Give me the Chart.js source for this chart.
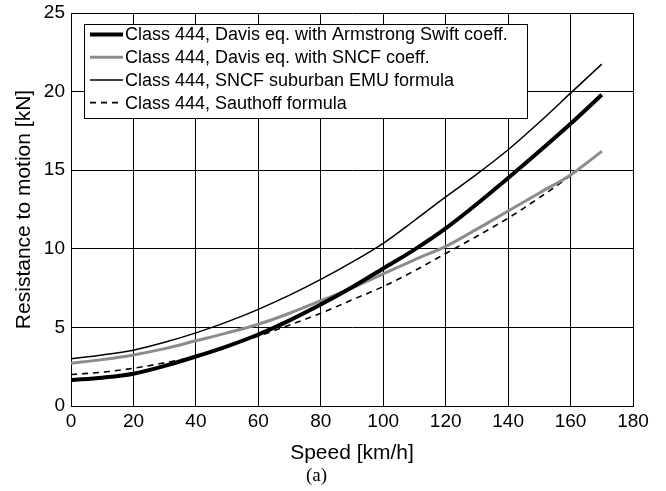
<!DOCTYPE html>
<html lang="en">
  <head>
    <meta charset="utf-8" />
    <title>Resistance to motion</title>
    <style>
      * {
        margin: 0;
        padding: 0;
      }
      body {
        background: white;
      }
      .chartBox {
        width: 666px;
        height: 491px;
      }
    </style>
  </head>
  <body>
    <div class="chartBox">
      <canvas id="myChart"></canvas>
    </div>

    <script src="https://cdn.jsdelivr.net/npm/chart.js@4.4.1/dist/chart.umd.min.js"></script>

    <script>
      // speed [km/h]
      const speeds = [0, 10, 20, 30, 40, 50, 60, 70, 80, 90, 100, 110, 120, 130, 140, 150, 160, 170];

      // resistance [kN]
      const davisArmstrong = [1.65, 1.8, 2.05, 2.55, 3.15, 3.8, 4.55, 5.45, 6.45, 7.55, 8.75, 9.95, 11.3, 12.85, 14.5, 16.2, 17.95, 19.8];
      const davisSncf = [2.72, 2.95, 3.25, 3.65, 4.15, 4.65, 5.2, 5.9, 6.7, 7.5, 8.4, 9.3, 10.15, 11.25, 12.4, 13.55, 14.7, 16.2];
      const sncfEmu = [3.0, 3.25, 3.55, 4.05, 4.65, 5.35, 6.15, 7.05, 8.05, 9.15, 10.35, 11.8, 13.3, 14.75, 16.3, 18.05, 19.9, 21.75];
      const sauthoff = [2.0, 2.15, 2.4, 2.75, 3.15, 3.8, 4.45, 5.15, 5.9, 6.75, 7.6, 8.6, 9.7, 10.8, 11.95, 13.25, 14.65, 16.2];

      const seriesNames = [
        "Class 444, Davis eq. with Armstrong Swift coeff.",
        "Class 444, Davis eq. with SNCF coeff.",
        "Class 444, SNCF suburban EMU formula",
        "Class 444, Sauthoff formula",
      ];

      const xTicks = [0, 20, 40, 60, 80, 100, 120, 140, 160, 180];
      const yTicks = [0, 5, 10, 15, 20, 25];

      const toPoints = (vals) => vals.map((v, i) => ({ x: speeds[i], y: v }));

      const sans = "'Liberation Sans', Arial, sans-serif";

      const data = {
        datasets: [
          {
            label: seriesNames[0],
            data: toPoints(davisArmstrong),
            borderColor: "#000",
            borderWidth: 4,
          },
          {
            label: seriesNames[1],
            data: toPoints(davisSncf),
            borderColor: "#8c8c8c",
            borderWidth: 3,
          },
          {
            label: seriesNames[2],
            data: toPoints(sncfEmu),
            borderColor: "#000",
            borderWidth: 1.5,
          },
          {
            label: seriesNames[3],
            data: toPoints(sauthoff),
            borderColor: "#000",
            borderWidth: 1.6,
            borderDash: [6, 5],
          },
        ],
      };

      // boxed legend in the upper left, MATLAB style
      const boxLegend = {
        id: "boxLegend",
        afterDraw(chart) {
          const { ctx } = chart;
          const x0 = 84, y0 = 24, w = 443, h = 94;
          const rowH = 22.7;
          ctx.save();
          ctx.fillStyle = "#fff";
          ctx.fillRect(x0, y0, w, h);
          ctx.strokeStyle = "#000";
          ctx.lineWidth = 1;
          ctx.strokeRect(x0 + 0.5, y0 + 0.5, w, h);
          ctx.font = "18px " + sans;
          ctx.textBaseline = "middle";
          chart.data.datasets.forEach((ds, i) => {
            const y = y0 + 10.5 + i * rowH;
            ctx.beginPath();
            ctx.strokeStyle = ds.borderColor;
            ctx.lineWidth = ds.borderWidth;
            ctx.setLineDash(ds.borderDash || []);
            ctx.moveTo(90, y);
            ctx.lineTo(123, y);
            ctx.stroke();
            ctx.setLineDash([]);
            ctx.fillStyle = "#000";
            ctx.fillText(ds.label, 125, y + 1);
          });
          ctx.restore();
        },
      };

      const config = {
        type: "line",
        data: data,
        options: {
          responsive: true,
          maintainAspectRatio: false,
          animation: false,
          layout: {
            padding: { top: 13, right: 33, left: 0, bottom: 0 },
          },
          elements: {
            point: { radius: 0 },
            line: { cubicInterpolationMode: "monotone", fill: false },
          },
          scales: {
            x: {
              type: "linear",
              min: 0,
              max: 180,
              afterBuildTicks: (s) => {
                s.ticks = xTicks.map((v) => ({ value: v }));
              },
              afterFit: (s) => {
                s.height = 58.2;
              },
              grid: { color: "#000", lineWidth: 1, drawTicks: false },
              border: { color: "#000", width: 1 },
              ticks: {
                color: "#000",
                padding: 4,
                maxRotation: 0,
                font: { family: sans, size: 19 },
              },
              title: {
                display: true,
                text: "Speed [km/h]",
                color: "#000",
                padding: { top: 0, bottom: -2 },
                font: { family: sans, size: 21 },
              },
            },
            y: {
              type: "linear",
              min: 0,
              max: 25,
              afterBuildTicks: (s) => {
                s.ticks = yTicks.map((v) => ({ value: v }));
              },
              afterFit: (s) => {
                s.width = 71;
                s.paddingTop = 13;
                s.paddingBottom = 0;
              },
              grid: { color: "#000", lineWidth: 1, drawTicks: false },
              border: { color: "#000", width: 1 },
              ticks: {
                color: "#000",
                padding: 6,
                font: { family: sans, size: 19 },
              },
              title: {
                display: true,
                text: "Resistance to motion [kN]",
                color: "#000",
                padding: { top: 12, bottom: 0 },
                font: { family: sans, size: 21 },
              },
            },
          },
          plugins: {
            legend: { display: false },
            tooltip: { enabled: false },
            title: {
              display: true,
              text: "(a)",
              position: "bottom",
              color: "#000",
              padding: { top: 0, bottom: 4 },
              font: { family: "'Liberation Serif', 'Times New Roman', serif", size: 19, weight: "normal" },
            },
          },
        },
        plugins: [boxLegend],
      };

      const myChart = new Chart(document.getElementById("myChart"), config);
    </script>
  </body>
</html>
